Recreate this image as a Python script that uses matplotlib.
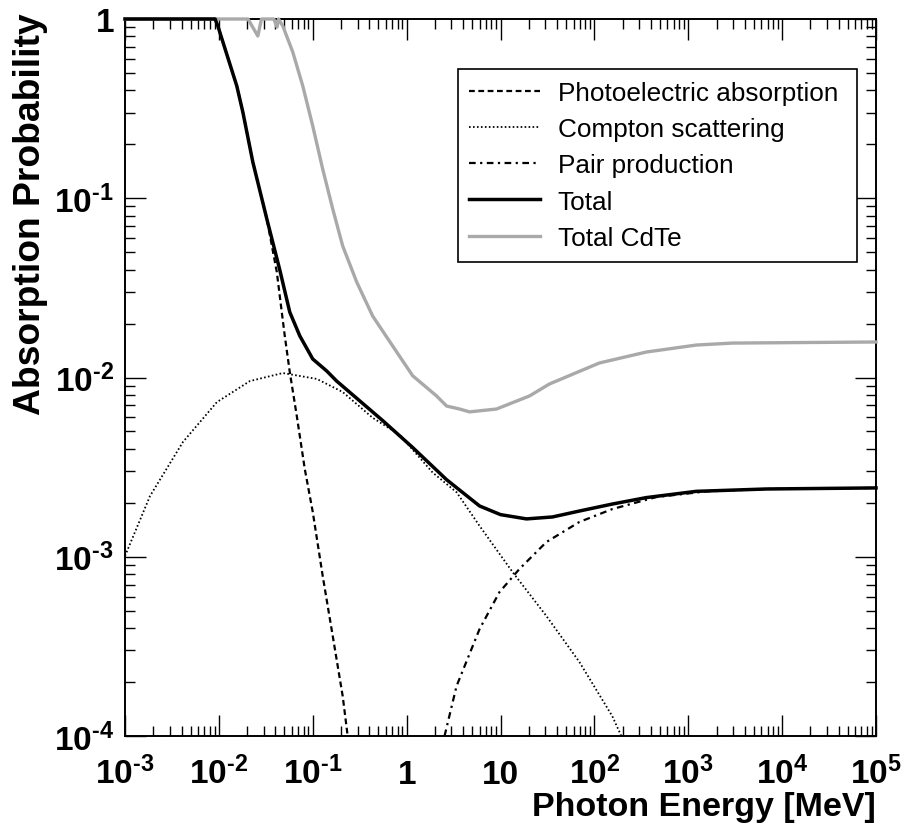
import matplotlib
matplotlib.use('Agg')
import matplotlib.pyplot as plt
from matplotlib.ticker import LogLocator, NullFormatter

plt.rcParams['font.family'] = ['Liberation Sans', 'DejaVu Sans']
plt.rcParams['mathtext.fontset'] = 'custom'
plt.rcParams['mathtext.rm'] = 'Liberation Sans:bold'
plt.rcParams['mathtext.it'] = 'Liberation Sans:bold'
plt.rcParams['mathtext.bf'] = 'Liberation Sans:bold'

# values (energy in MeV, probability)
total_e = [0.001, 0.00912, 0.00975, 0.01552, 0.01799, 0.02301, 0.03243, 0.04457, 0.05689,
           0.0728, 0.1, 0.141, 0.1799, 0.3162, 0.5559, 1.159, 2.667, 5.984, 10.0, 18.92,
           35.73, 69.18, 155.2, 357.3, 1216, 6761, 1e5]
total_p = [1.0, 1.0, 0.914, 0.423, 0.303, 0.159, 0.0766, 0.0398, 0.02317,
           0.01706, 0.01268, 0.01087, 0.00955, 0.00741, 0.00575, 0.00407, 0.00269, 0.00192,
           0.001718, 0.001626, 0.001667, 0.001799, 0.001968, 0.002138, 0.002317, 0.002388,
           0.002421]

photo_e = [0.001, 0.00912, 0.00975, 0.01552, 0.01799, 0.02301, 0.03243, 0.0414, 0.04677,
           0.05035, 0.05689, 0.06761, 0.08222, 0.1, 0.1276, 0.1633, 0.2084, 0.2355]
photo_p = [1.0, 1.0, 0.914, 0.423, 0.303, 0.159, 0.0766, 0.0388, 0.02317,
           0.01706, 0.01074, 0.0061, 0.00309, 0.00178, 0.000782, 0.000361, 0.000167, 0.0001]

compton_e = [0.001, 0.001845, 0.00414, 0.009528, 0.02138, 0.04797, 0.1104, 0.2084, 0.4345,
             0.8433, 1.892, 3.404, 5.984, 13.43, 30.83, 69.18, 155.2, 193.6]
compton_p = [0.00101, 0.00218, 0.004365, 0.00729, 0.00955, 0.01059, 0.00982, 0.0083, 0.00596,
             0.00479, 0.00295, 0.00229, 0.001486, 0.000822, 0.000467, 0.000259, 0.000129, 0.0001]

pair_e = [2.535, 3.404, 5.984, 9.75, 15.92, 30.83, 69.18, 155.2, 457.1, 1585, 6761, 1e5]
pair_p = [0.0001, 0.00019, 0.000395, 0.000635, 0.000855, 0.001208, 0.001563, 0.001845,
          0.002153, 0.002317, 0.002388, 0.002421]

cdte_e = [0.001, 0.02042, 0.026, 0.02844, 0.03846, 0.04169, 0.04315, 0.04797, 0.06124,
          0.07834, 0.1, 0.1276, 0.1633, 0.2084, 0.2938, 0.4345, 0.7096, 1.159, 2.084,
          2.667, 3.664, 4.677, 9.057, 20.37, 33.19, 113.0, 357.3, 1216, 2938, 1e5]
cdte_p = [1.0, 1.0, 0.804, 1.0, 1.0, 0.902, 1.0, 0.914, 0.6546,
          0.4227, 0.2529, 0.1456, 0.0871, 0.0542, 0.0341, 0.02203, 0.015, 0.01023, 0.00789,
          0.00693, 0.00667, 0.00643, 0.00667, 0.00789, 0.0092, 0.01205, 0.01387, 0.01517,
          0.01556, 0.01578]

series_labels = ['Photoelectric absorption ', 'Compton scattering', 'Pair production',
                 'Total', 'Total CdTe']

xticks = [1e-3, 1e-2, 1e-1, 1, 10, 1e2, 1e3, 1e4, 1e5]
xticklabels = [r'10$^{\text{-}3}$', r'10$^{\text{-}2}$', r'10$^{\text{-}1}$', '1', '10',
               '10$^{2}$', '10$^{3}$', '10$^{4}$', '10$^{5}$']
yticks = [1e-4, 1e-3, 1e-2, 1e-1, 1]
yticklabels = [r'10$^{\text{-}4}$', r'10$^{\text{-}3}$', r'10$^{\text{-}2}$',
               r'10$^{\text{-}1}$', '1']

fig = plt.figure(figsize=(9.05, 8.29), dpi=100)
ax = fig.add_axes([125 / 905, 1 - 737 / 829, 751 / 905, 717 / 829])

ax.plot(photo_e, photo_p, color='black', lw=1.6, dashes=(2.6, 1.6),
        label=series_labels[0], clip_on=False, zorder=2)
ax.plot(compton_e, compton_p, color='black', lw=1.3, dashes=(0.9, 1.3),
        label=series_labels[1], clip_on=False, zorder=2)
ax.plot(pair_e, pair_p, color='black', lw=1.6, dashes=(3, 2, 1, 2),
        label=series_labels[2], clip_on=False, zorder=2)
ax.plot(total_e, total_p, color='black', lw=2.5, label=series_labels[3],
        clip_on=False, zorder=3.2)
ax.plot(cdte_e, cdte_p, color='#a9a9a9', lw=2.4, label=series_labels[4],
        clip_on=False, zorder=3.1)

ax.set_xscale('log')
ax.set_yscale('log')
ax.set_xlim(1e-3, 1e5)
ax.set_ylim(1e-4, 1)

ax.set_xticks(xticks)
ax.set_xticklabels(xticklabels, fontsize=24, fontweight='bold')
ax.set_yticks(yticks)
ax.set_yticklabels(yticklabels, fontsize=24, fontweight='bold')
ax.xaxis.set_minor_locator(LogLocator(base=10, subs=range(2, 10), numticks=20))
ax.yaxis.set_minor_locator(LogLocator(base=10, subs=range(2, 10), numticks=20))
ax.xaxis.set_minor_formatter(NullFormatter())
ax.yaxis.set_minor_formatter(NullFormatter())

ax.tick_params(which='both', direction='in', top=True, right=True, width=1.0)
ax.tick_params(which='major', length=15)
ax.tick_params(which='minor', length=7.5)
ax.tick_params(axis='x', which='major', pad=34)
ax.tick_params(axis='y', which='major', pad=8)
for lbl in ax.get_xticklabels():
    lbl.set_verticalalignment('baseline')

for s in ax.spines.values():
    s.set_linewidth(1.4)

ax.set_xlabel('Photon Energy [MeV]', fontsize=24.5, fontweight='bold', ha='right')
ax.xaxis.set_label_coords(1.0, -0.077)
ax.set_ylabel('Absorption Probability', fontsize=26.8, fontweight='bold', ha='right')
ax.yaxis.set_label_coords(-0.103, 1.01)

leg = ax.legend(loc='upper right', bbox_to_anchor=(857 / 905, 1 - 70 / 829),
                bbox_transform=fig.transFigure, borderaxespad=0, fontsize=18.8,
                handlelength=2.7, handletextpad=0.68, labelspacing=0.47,
                borderpad=0.45, fancybox=False, framealpha=1, edgecolor='black')
leg.get_frame().set_linewidth(1.2)

fig.savefig('out.png', dpi=100)
